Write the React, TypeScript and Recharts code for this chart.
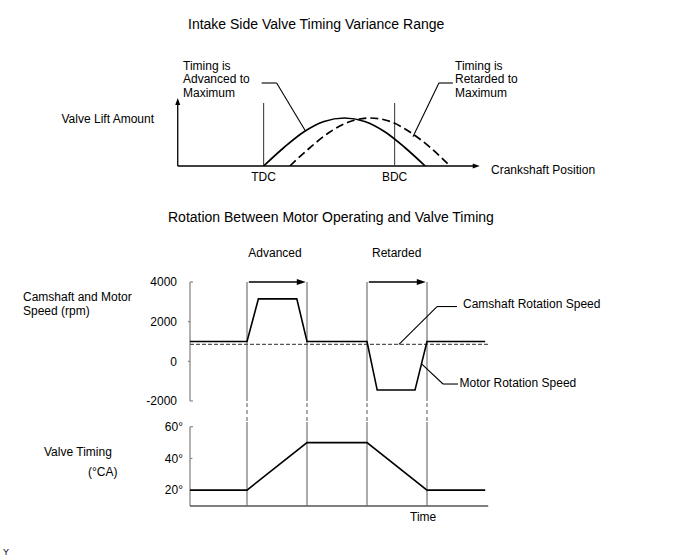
import React from 'react';
import { LineChart, Line, XAxis, YAxis, ReferenceLine } from 'recharts';

// ---------- Top chart: valve lift vs crankshaft position ----------
const crankTicks = [0, 180];
const crankTickLabels = ['TDC', 'BDC'];
const advancedCrank = [0, 28, 55, 83, 111, 139, 167, 194, 222];
const advancedLift = [0, 3.7, 6.8, 8.9, 9.6, 8.9, 6.8, 3.7, 0];
const retardedCrank = [36, 64, 91, 119, 146, 174, 201, 229, 256];
const retardedLift = [0, 3.7, 6.8, 8.9, 9.6, 8.9, 6.8, 3.7, 0];

// ---------- Middle chart: speeds vs time ----------
const motorTime = [0.05, 1, 1.19, 1.83, 2, 3, 3.17, 3.8, 4, 4.97];
const motorSpeed = [1000, 1000, 3150, 3150, 1000, 1000, -1450, -1450, 1000, 1000];
const camTime = [0.05, 5.02];
const camSpeed = [850, 850];
const speedTicks = [4000, 2000, 0, -2000];
const eventTimes = [1, 2, 3, 4];
const phaseLabels = ['Advanced', 'Retarded'];

// ---------- Bottom chart: valve timing vs time ----------
const timingTime = [0.05, 1, 2, 3, 4, 4.97];
const timingDeg = [20, 20, 50, 50, 20, 20];
const timingTicks = [60, 40, 20];

const FONT = '"Liberation Sans", Arial, Helvetica, sans-serif';
const K = 131 / 180; // px per crank degree (layout only)

const advData = advancedCrank.map((x, i) => ({ x, y: advancedLift[i] }));
const retData = retardedCrank.map((x, i) => ({ x, y: retardedLift[i] }));
const motorData = motorTime.map((t, i) => ({ t, v: motorSpeed[i] }));
const camData = camTime.map((t, i) => ({ t, v: camSpeed[i] }));
const timingData = timingTime.map((t, i) => ({ t, v: timingDeg[i] }));

const arrowShape = (color: string, size: number, half: number, width: number) => (p: any) => {
  const { x1, y1, x2, y2 } = p;
  const dx = x2 - x1;
  const dy = y2 - y1;
  const len = Math.hypot(dx, dy) || 1;
  const ux = dx / len;
  const uy = dy / len;
  const bx = x2 - ux * size;
  const by = y2 - uy * size;
  const px = -uy * half;
  const py = ux * half;
  return (
    <g>
      <line x1={x1} y1={y1} x2={bx + ux} y2={by + uy} stroke={color} strokeWidth={width} />
      <polygon points={`${x2},${y2} ${bx + px},${by + py} ${bx - px},${by - py}`} fill={color} />
    </g>
  );
};

const seg = (a: [number, number], b: [number, number], stroke: string, width: number, dash?: string, key?: string) => (
  <ReferenceLine
    key={key}
    segment={[{ x: a[0], y: a[1] }, { x: b[0], y: b[1] }]}
    stroke={stroke}
    strokeWidth={width}
    strokeDasharray={dash}
    ifOverflow="visible"
  />
);

const Txt = ({ x, y, children, size = 12, anchor = 'start' }: any) => (
  <text x={x} y={y} fontSize={size} fontFamily={FONT} fill="#000" textAnchor={anchor}>
    {children}
  </text>
);

export default function App() {
  const topLeft = 264 - 130 * K;
  const topWidth = 440 * K;
  return (
    <div style={{ position: 'absolute', left: 0, top: 0, width: 688, height: 560, background: '#fff', overflow: 'hidden' }}>
      {/* Top chart */}
      <div style={{ position: 'absolute', left: topLeft, top: 57 }}>
        <LineChart width={topWidth} height={129} margin={{ top: 4, right: 0, bottom: 0, left: 0 }}>
          <XAxis
            type="number"
            dataKey="x"
            domain={[-130, 310]}
            allowDataOverflow
            ticks={crankTicks}
            interval={0}
            tickFormatter={(v: number) => crankTickLabels[crankTicks.indexOf(v)] ?? ''}
            axisLine={false}
            tickLine={false}
            tickSize={0}
            tickMargin={6}
            height={20}
            tick={{ fontSize: 12, fill: '#000', fontFamily: FONT }}
          />
          <YAxis type="number" domain={[0, 21]} allowDataOverflow hide />
          {/* axes with arrows */}
          <ReferenceLine segment={[{ x: -118, y: 0 }, { x: -118, y: 13.6 }]} ifOverflow="visible" shape={arrowShape('#000', 7, 2.5, 1.3)} />
          <ReferenceLine segment={[{ x: -118, y: 0 }, { x: 297, y: 0 }]} ifOverflow="visible" shape={arrowShape('#000', 7, 2.5, 1.3)} />
          {seg([crankTicks[0], 0], [crankTicks[0], 12.6], '#444', 1.1)}
          {seg([crankTicks[1], 0], [crankTicks[1], 12.6], '#444', 1.1)}
          {/* leaders */}
          {seg([-2.7, 16.6], [17.9, 16.6], '#000', 1.1)}
          {seg([17.9, 16.6], [57.3, 7.06], '#000', 1.1)}
          {seg([260.1, 16.6], [240.9, 16.6], '#000', 1.1)}
          {seg([240.9, 16.6], [205.2, 5.87], '#000', 1.1)}
          <Line data={advData} dataKey="y" type="monotone" stroke="#000" strokeWidth={1.7} dot={false} activeDot={false} isAnimationActive={false} />
          <Line data={retData} dataKey="y" type="monotone" stroke="#000" strokeWidth={1.7} strokeDasharray="8 4" dot={false} activeDot={false} isAnimationActive={false} />
        </LineChart>
      </div>

      {/* Middle chart */}
      <div style={{ position: 'absolute', left: 130, top: 272 }}>
        <LineChart width={360} height={152} margin={{ top: 10, right: 0, bottom: 2, left: 0 }}>
          <XAxis type="number" dataKey="t" domain={[0.05, 5.05]} allowDataOverflow hide />
          <YAxis
            type="number"
            domain={[-3060, 4000]}
            allowDataOverflow
            ticks={speedTicks}
            interval={0}
            width={60}
            axisLine={false}
            tickLine={false}
            tickSize={0}
            tickMargin={13}
            tick={{ fontSize: 12, fill: '#000', fontFamily: FONT }}
          />
          {seg([0.05, -2000], [0.05, 4000], '#888', 1.3)}
          {seg([0.05, 4000], [0.1, 4000], '#888', 1.2)}
          {seg([0.05, -2000], [0.1, -2000], '#888', 1.2)}
          {seg([0.017, 2000], [0.05, 2000], '#888', 1.2)}
          {seg([0.017, 0], [0.05, 0], '#888', 1.2)}
          {eventTimes.map((t, i) => seg([t, 4000], [t, -2000], '#666', 1.1, undefined, `vs${i}`))}
          {eventTimes.map((t, i) => seg([t, -2100], [t, -3060], '#666', 1.1, '4 3', `vd${i}`))}
          <ReferenceLine segment={[{ x: eventTimes[0] + 0.03, y: 4000 }, { x: eventTimes[1] - 0.02, y: 4000 }]} ifOverflow="visible" shape={arrowShape('#000', 9, 3, 1.3)} />
          <ReferenceLine segment={[{ x: eventTimes[2] + 0.03, y: 4000 }, { x: eventTimes[3] - 0.02, y: 4000 }]} ifOverflow="visible" shape={arrowShape('#000', 9, 3, 1.3)} />
          {/* leaders */}
          {seg([3.533, 850], [4.167, 2763], '#000', 1.1)}
          {seg([4.167, 2763], [4.5, 2763], '#000', 1.1)}
          {seg([3.91, -130], [4.267, -1145], '#000', 1.1)}
          {seg([4.267, -1145], [4.517, -1145], '#000', 1.1)}
          <Line data={camData} dataKey="v" type="linear" stroke="#555" strokeWidth={1.2} strokeDasharray="4 2" dot={false} activeDot={false} isAnimationActive={false} />
          <Line data={motorData} dataKey="v" type="linear" stroke="#000" strokeWidth={1.6} dot={false} activeDot={false} isAnimationActive={false} />
        </LineChart>
      </div>

      {/* Bottom chart */}
      <div style={{ position: 'absolute', left: 130, top: 416 }}>
        <LineChart width={360} height={94} margin={{ top: 6, right: 0, bottom: 4, left: 0 }}>
          <XAxis type="number" dataKey="t" domain={[0.05, 5.05]} allowDataOverflow hide />
          <YAxis
            type="number"
            domain={[10, 63]}
            allowDataOverflow
            ticks={timingTicks}
            interval={0}
            width={60}
            axisLine={false}
            tickLine={false}
            tickSize={0}
            tickMargin={7}
            tickFormatter={(v: number) => `${v}°`}
            tick={{ fontSize: 12, fill: '#000', fontFamily: FONT }}
          />
          {seg([0.05, 10], [0.05, 60], '#888', 1.3)}
          {seg([0.05, 60], [0.1, 60], '#888', 1.2)}
          {seg([0.05, 40], [0.09, 40], '#888', 1.2)}
          {seg([0.05, 10], [5.02, 10], '#555', 1.3)}
          {eventTimes.map((t, i) => seg([t, 63], [t, 10], '#666', 1.1, undefined, `bv${i}`))}
          <Line data={timingData} dataKey="v" type="linear" stroke="#000" strokeWidth={1.6} dot={false} activeDot={false} isAnimationActive={false} />
        </LineChart>
      </div>

      {/* Text overlay */}
      <svg width={688} height={560} style={{ position: 'absolute', left: 0, top: 0, pointerEvents: 'none' }}>
        <Txt x={188} y={29} size={14}>Intake Side Valve Timing Variance Range</Txt>
        <Txt x={183} y={69.5}>Timing is</Txt>
        <Txt x={183} y={83}>Advanced to</Txt>
        <Txt x={183} y={96.5}>Maximum</Txt>
        <Txt x={455} y={69.5}>Timing is</Txt>
        <Txt x={455} y={83}>Retarded to</Txt>
        <Txt x={455} y={96.5}>Maximum</Txt>
        <Txt x={61.5} y={123}>Valve Lift Amount</Txt>
        <Txt x={491} y={174}>Crankshaft Position</Txt>

        <Txt x={168} y={222} size={14}>Rotation Between Motor Operating and Valve Timing</Txt>
        <Txt x={275} y={256.5} anchor="middle">{phaseLabels[0]}</Txt>
        <Txt x={396.7} y={256.5} anchor="middle">{phaseLabels[1]}</Txt>
        <Txt x={23} y={301}>Camshaft and Motor</Txt>
        <Txt x={23} y={315}>Speed (rpm)</Txt>
        <Txt x={463} y={308}>Camshaft Rotation Speed</Txt>
        <Txt x={459.5} y={386.5}>Motor Rotation Speed</Txt>

        <Txt x={44} y={456}>Valve Timing</Txt>
        <Txt x={88} y={476}>(°CA)</Txt>
        <Txt x={410} y={520.5}>Time</Txt>
        <Txt x={3} y={555} size={9}>Y</Txt>
      </svg>
    </div>
  );
}
